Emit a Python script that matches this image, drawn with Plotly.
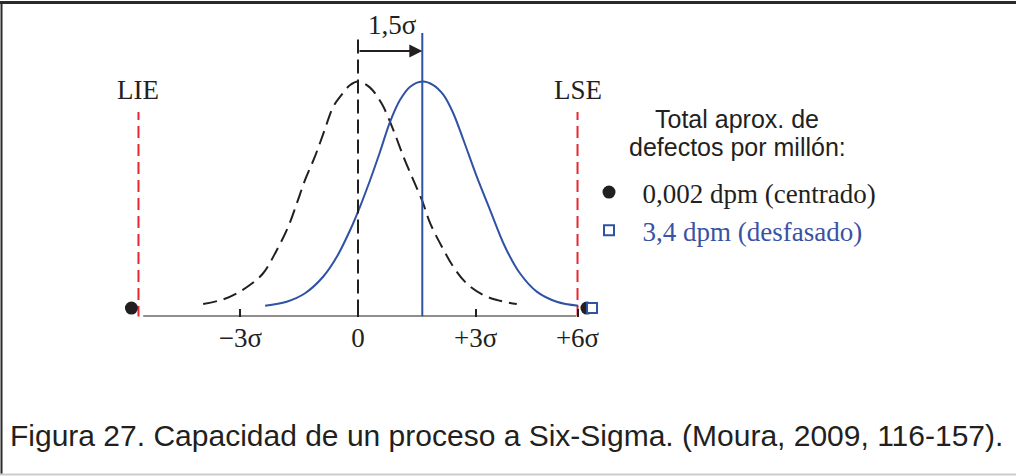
import plotly.graph_objects as go

# ---------------- data (x in sigma units, y relative to curve peak) ----------------
centered_x = [-3.95, -3.44, -3.09, -2.76, -2.42, -2.07, -1.78, -1.56, -1.35, -1.10, -0.88, -0.63,
              -0.42, -0.20, 0.0, 0.30, 0.60, 0.90, 1.16, 1.41, 1.63, 1.84, 2.14, 2.43, 2.77, 3.20,
              3.62, 4.05]
centered_y = [0.053, 0.073, 0.099, 0.134, 0.184, 0.283, 0.382, 0.482, 0.581, 0.680, 0.780, 0.893,
              0.943, 0.985, 1.0, 0.975, 0.907, 0.794, 0.680, 0.581, 0.496, 0.397, 0.297, 0.212,
              0.141, 0.091, 0.067, 0.053]

shifted_x = [-2.37, -1.82, -1.35, -0.89, -0.54, -0.20, 0.05, 0.31, 0.56, 0.82, 1.07, 1.33, 1.64,
             1.92, 2.18, 2.43, 2.69, 3.03, 3.37, 3.75, 4.13, 4.56, 5.07, 5.62]
shifted_y = [0.046, 0.063, 0.099, 0.169, 0.254, 0.368, 0.467, 0.581, 0.70, 0.829, 0.921, 0.978,
             1.0, 0.985, 0.943, 0.865, 0.751, 0.595, 0.453, 0.297, 0.184, 0.106, 0.063, 0.046]

mean_centered = 0.0
mean_shifted = 1.64
lie = -5.6
lse = 5.6

centered_defect_x = [-5.78, 5.84]
centered_defect_y = [0.036, 0.036]
shifted_defect_x = [5.97]
shifted_defect_y = [0.036]

tick_vals = [-3, 0, 3, lse]
tick_text = ["\u22123\u03c3", "0", "+3\u03c3", "+6\u03c3"]

legend_title_lines = ["Total aprox. de", "defectos por millón:"]
legend_centered = "\u00a0\u00a00,002 dpm (centrado)"
legend_shifted = "\u00a0\u00a03,4 dpm (desfasado)"
caption = "Figura 27. Capacidad de un proceso a Six-Sigma. (Moura, 2009, 116-157)."

# ---------------- styling ----------------
W, H = 1016, 476
px_per_sigma = 39.2
zero_px = 358
base_py = 316.5
px_per_unit = 235.0

INK = "#231f20"
BLUE = "#2f52a4"
BLUE_TXT = "#3953a4"
RED = "#e8262e"
SERIF = "Liberation Serif, Times New Roman, serif"
SANS = "Liberation Sans, Arial, sans-serif"

fig = go.Figure()

fig.add_trace(go.Scatter(x=centered_x, y=centered_y, mode="lines", line_shape="spline",
                         line=dict(color=INK, width=2, dash="14px,7px"), showlegend=False,
                         hoverinfo="skip"))
fig.add_trace(go.Scatter(x=shifted_x, y=shifted_y, mode="lines", line_shape="spline",
                         line=dict(color=BLUE, width=2), showlegend=False, hoverinfo="skip"))
fig.add_trace(go.Scatter(x=centered_defect_x, y=centered_defect_y, mode="markers",
                         marker=dict(symbol="circle", size=13, color=INK),
                         name=legend_centered, cliponaxis=False))
fig.add_trace(go.Scatter(x=shifted_defect_x, y=shifted_defect_y, mode="markers",
                         marker=dict(symbol="square", size=10, color="white",
                                     line=dict(color=BLUE, width=2)),
                         name="<span style='color:%s'>%s</span>" % (BLUE_TXT, legend_shifted),
                         cliponaxis=False))

shapes = []
# spec limits
for lim in (lie, lse):
    shapes.append(dict(type="line", xref="x", yref="y", x0=lim, x1=lim, y0=-0.006, y1=0.87,
                       line=dict(color=RED, width=2, dash="12px,6px"), layer="below"))
# baseline
shapes.append(dict(type="line", xref="x", yref="y", x0=-5.48, x1=5.56, y0=0, y1=0,
                   line=dict(color=INK, width=2)))
# mean lines
shapes.append(dict(type="line", xref="x", yref="y", x0=mean_centered, x1=mean_centered,
                   y0=1.179, y1=0, line=dict(color=INK, width=2, dash="14px,6px")))
shapes.append(dict(type="line", xref="x", yref="y", x0=mean_shifted, x1=mean_shifted,
                   y0=1.206, y1=0, line=dict(color=BLUE, width=2)))
# frame
shapes.append(dict(type="line", xref="paper", yref="paper", x0=0, x1=1, y0=1 - 2.5 / H,
                   y1=1 - 2.5 / H, line=dict(color="#2b2b2b", width=3)))
shapes.append(dict(type="line", xref="paper", yref="paper", x0=1.5 / W, x1=1.5 / W, y0=1.5 / H,
                   y1=1 - 2.5 / H, line=dict(color="#2b2b2b", width=2)))
shapes.append(dict(type="line", xref="paper", yref="paper", x0=0, x1=1, y0=1.5 / H, y1=1.5 / H,
                   line=dict(color="#cccccc", width=2)))

annotations = [
    dict(x=lie, y=0.964, xref="x", yref="y", text="LIE", showarrow=False,
         font=dict(family=SERIF, size=27, color=INK)),
    dict(x=lse, y=0.964, xref="x", yref="y", text="LSE", showarrow=False,
         font=dict(family=SERIF, size=27, color=INK)),
    dict(x=(mean_centered + mean_shifted) / 2 + 0.05, y=1.24, xref="x", yref="y",
         text="1,5\u03c3", showarrow=False, font=dict(family=SERIF, size=27, color=INK)),
    dict(x=mean_shifted, y=1.13, xref="x", yref="y", ax=mean_centered, ay=1.13, axref="x",
         ayref="y", text="", showarrow=True, arrowhead=2, arrowsize=1.3, arrowwidth=2,
         arrowcolor=INK, standoff=0, startstandoff=0),
    dict(x=8 / W, y=(H - 435) / H, xref="paper", yref="paper", xanchor="left", yanchor="middle",
         text=caption, showarrow=False, font=dict(family=SANS, size=30, color=INK)),
]
for i, line in enumerate(legend_title_lines):
    annotations.append(dict(x=737 / W, y=(H - (119 + 28 * i)) / H, xref="paper", yref="paper",
                            xanchor="center", yanchor="middle", text=line, showarrow=False,
                            font=dict(family=SANS, size=25, color=INK)))

fig.update_layout(
    width=W, height=H, margin=dict(l=0, r=0, t=0, b=0),
    paper_bgcolor="white", plot_bgcolor="white",
    shapes=shapes, annotations=annotations,
    showlegend=True, hovermode=False,
    legend=dict(x=589 / W, y=(H - 168) / H, xanchor="left", yanchor="top",
                bgcolor="rgba(0,0,0,0)", borderwidth=0,
                font=dict(family=SERIF, size=27, color=INK),
                itemclick=False, itemdoubleclick=False),
    xaxis=dict(range=[-zero_px / px_per_sigma, (W - zero_px) / px_per_sigma], domain=[0, 1],
               showgrid=False, zeroline=False, showline=False, ticks="inside", ticklen=8,
               tickwidth=2, tickcolor=INK, tickvals=tick_vals, ticktext=tick_text,
               tickfont=dict(family=SERIF, size=27, color=INK), ticklabelstandoff=2,
               fixedrange=True),
    yaxis=dict(domain=[1 - base_py / H, 1], range=[0, base_py / px_per_unit], visible=False,
               fixedrange=True),
)

fig.write_html(
    "out.html",
    config={"staticPlot": True, "displayModeBar": False},
    post_script="var de=document.documentElement;de.style.margin='0';de.style.padding='0';"
                "de.style.overflow='hidden';document.body.style.margin='0';"
                "document.body.style.padding='0';document.body.style.overflow='hidden';",
)
